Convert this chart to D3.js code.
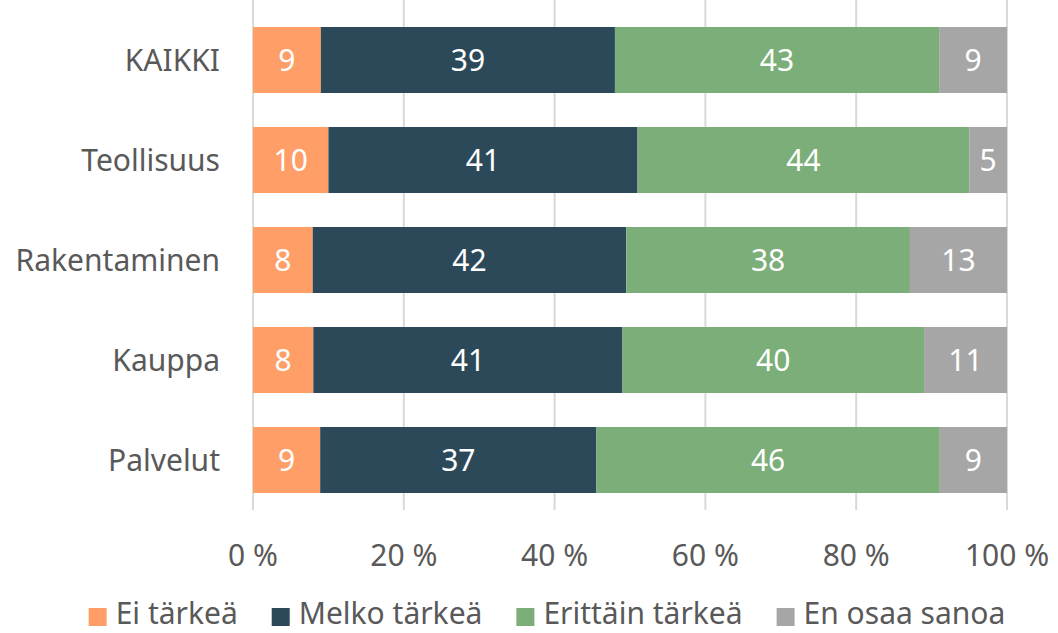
<!DOCTYPE html>
<html>
<head>
<meta charset="utf-8">
<script src="https://cdn.jsdelivr.net/npm/d3@7"></script>
<style>
  body { margin: 0; background: #fff; }
  svg text { font-family: "Noto Sans", "Open Sans", sans-serif; }
</style>
</head>
<body>
<div id="chart"></div>
<script>
// categories (top to bottom)
var categories = ["KAIKKI", "Teollisuus", "Rakentaminen", "Kauppa", "Palvelut"];
// series, values in %
var seriesNames = ["Ei tärkeä", "Melko tärkeä", "Erittäin tärkeä", "En osaa sanoa"];
var eiTarkea      = [9, 10, 8, 8, 9];
var melkoTarkea   = [39, 41, 42, 41, 37];
var erittainTarkea = [43, 44, 38, 40, 46];
var enOsaaSanoa   = [9, 5, 13, 11, 9];
var tickValues = [0, 0.2, 0.4, 0.6, 0.8, 1];

var colors = ["#FF9E67", "#2C495A", "#7BAE78", "#A6A6A6"];

var width = 1058, height = 633;
var margin = { left: 253, right: 51, top: 10, bottom: 123 };
var fontSize = "30px";

var rows = categories.map(function (c, i) {
    return {
        cat: c,
        "Ei tärkeä": eiTarkea[i],
        "Melko tärkeä": melkoTarkea[i],
        "Erittäin tärkeä": erittainTarkea[i],
        "En osaa sanoa": enOsaaSanoa[i]
    };
});

var svg = d3.select("#chart").append("svg")
    .attr("width", width)
    .attr("height", height);

var xScale = d3.scaleLinear()
    .domain([0, 1])
    .range([margin.left, width - margin.right]);

var yScale = d3.scaleBand()
    .domain(categories)
    .range([margin.top, height - margin.bottom])
    .paddingInner(0.34)
    .paddingOuter(0.17);

// gridlines (incl. the little tick stubs below the plot)
svg.append("g")
    .selectAll("line")
    .data(tickValues)
    .enter().append("line")
    .attr("x1", d => xScale(d))
    .attr("x2", d => xScale(d))
    .attr("y1", 0)
    .attr("y2", height - margin.bottom)
    .attr("stroke", "#d9d9d9")
    .attr("stroke-width", 2);

// 100% stacked - bars are normalised, labels show the raw values
var stacked = d3.stack()
    .keys(seriesNames)
    .offset(d3.stackOffsetExpand)(rows);

var layers = svg.append("g")
    .selectAll("g")
    .data(stacked)
    .enter().append("g")
    .attr("fill", (d, i) => colors[i]);

layers.selectAll("rect")
    .data(d => d)
    .enter().append("rect")
    .attr("x", d => xScale(d[0]))
    .attr("y", d => yScale(d.data.cat))
    .attr("width", d => xScale(d[1]) - xScale(d[0]))
    .attr("height", yScale.bandwidth());

// value labels
stacked.forEach(function (layer) {
    svg.append("g")
        .selectAll("text")
        .data(layer)
        .enter().append("text")
        .attr("x", d => (xScale(d[0]) + xScale(d[1])) / 2)
        .attr("y", d => yScale(d.data.cat) + yScale.bandwidth() / 2)
        .attr("dy", "0.35em")
        .attr("text-anchor", "middle")
        .attr("fill", "#fff")
        .style("font-size", fontSize)
        .text(d => d.data[layer.key]);
});

// category labels
svg.append("g")
    .selectAll("text")
    .data(categories)
    .enter().append("text")
    .attr("x", 220)
    .attr("y", d => yScale(d) + yScale.bandwidth() / 2)
    .attr("dy", "0.35em")
    .attr("text-anchor", "end")
    .attr("fill", "#595959")
    .style("font-size", fontSize)
    .text(d => d);

// x tick labels
svg.append("g")
    .selectAll("text")
    .data(tickValues)
    .enter().append("text")
    .attr("x", d => xScale(d))
    .attr("y", 555)
    .attr("dy", "0.35em")
    .attr("text-anchor", "middle")
    .attr("fill", "#595959")
    .style("font-size", fontSize)
    .text(d => Math.round(d * 100) + " %");

// legend
var legend = svg.append("g");
var items = legend.selectAll("g")
    .data(seriesNames)
    .enter().append("g");
items.append("rect")
    .attr("width", 18)
    .attr("height", 18)
    .attr("y", 608)
    .attr("fill", (d, i) => colors[i]);
items.append("text")
    .attr("x", 27)
    .attr("y", 613)
    .attr("dy", "0.35em")
    .attr("fill", "#595959")
    .style("font-size", fontSize)
    .text(d => d);

var gap = 34;
var widths = [];
items.each(function () {
    widths.push(27 + d3.select(this).select("text").node().getComputedTextLength());
});
var total = d3.sum(widths) + gap * (widths.length - 1);
var xPos = (width - total) / 2 + 18;
items.attr("transform", function (d, i) {
    var t = "translate(" + xPos + ",0)";
    xPos += widths[i] + gap;
    return t;
});
</script>
</body>
</html>
